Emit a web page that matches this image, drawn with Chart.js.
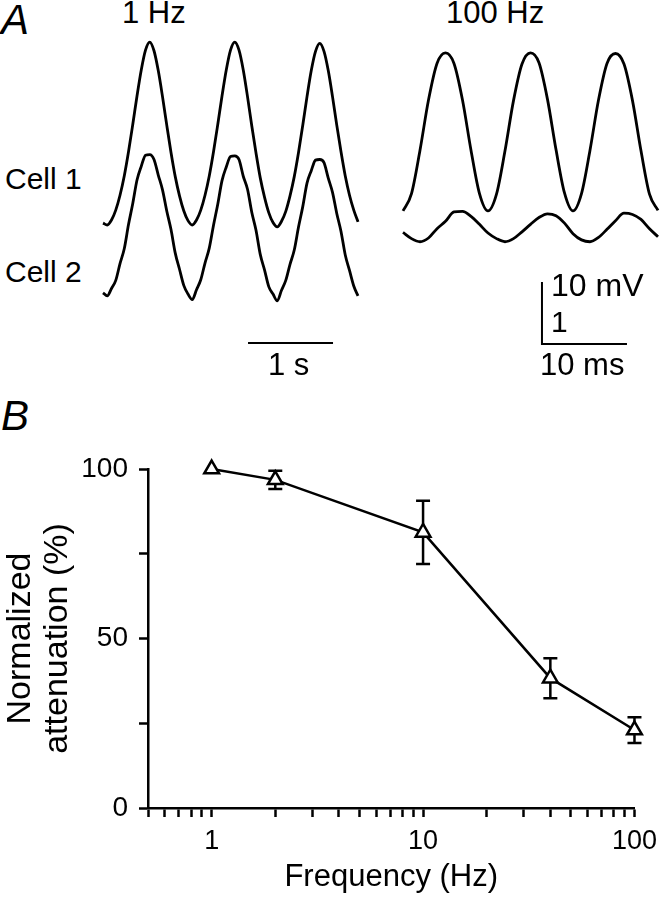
<!DOCTYPE html>
<html>
<head>
<meta charset="utf-8">
<script src="https://cdn.jsdelivr.net/npm/chart.js@4"></script>
<style>
body { margin: 0; background: #fff; }
#fig { position: relative; width: 665px; height: 900px; font-family: "Liberation Sans", Arial, sans-serif; color: #000; }
#fig canvas { position: absolute; }
.lbl { position: absolute; line-height: 1; white-space: nowrap; }
</style>
</head>
<body>
<div id="fig">
  <canvas id="trace1Hz" width="280" height="340" style="left:90px;top:30px"></canvas>
  <canvas id="trace100Hz" width="275" height="340" style="left:390px;top:30px"></canvas>
  <canvas id="attChart" width="665" height="460" style="left:0;top:440px"></canvas>

  <div class="lbl" style="left:1px;top:-1px;font-size:42px;font-style:italic">A</div>
  <div class="lbl" style="left:122px;top:-3px;font-size:31px">1 Hz</div>
  <div class="lbl" style="left:446px;top:-3px;font-size:31px">100 Hz</div>
  <div class="lbl" style="left:5px;top:164px;font-size:30px">Cell 1</div>
  <div class="lbl" style="left:5px;top:257px;font-size:30px">Cell 2</div>
  <div class="lbl" style="left:268px;top:349px;font-size:31px">1 s</div>
  <div class="lbl" style="left:551px;top:269px;font-size:32px">10 mV</div>
  <div class="lbl" style="left:551px;top:307px;font-size:30px">1</div>
  <div class="lbl" style="left:540px;top:349px;font-size:31px">10 ms</div>
  <div class="lbl" style="left:1px;top:395px;font-size:42px;font-style:italic">B</div>
</div>
<script>
// Panel A, 1 Hz: samples every 50 ms (mV above each cell's trough)
const time1Hz = [0, 0.05, 0.1, 0.15, 0.2, 0.25, 0.3, 0.35, 0.4, 0.45, 0.5, 0.55, 0.6, 0.65, 0.7, 0.75, 0.8, 0.85, 0.9, 0.95, 1,
  1.05, 1.1, 1.15, 1.2, 1.25, 1.3, 1.35, 1.4, 1.45, 1.5, 1.55, 1.6, 1.65, 1.7, 1.75, 1.8, 1.85, 1.9, 1.95, 2,
  2.05, 2.1, 2.15, 2.2, 2.25, 2.3, 2.35, 2.4, 2.45, 2.5, 2.55, 2.6, 2.65, 2.7, 2.75, 2.8, 2.85, 2.9, 2.95, 3];
const cell1At1Hz = [0.3, 0.0, 0.8, 2.4, 4.8, 7.9, 11.8, 16.2, 20.8, 25.0, 28.2, 29.5, 28.1, 24.9, 20.7, 16.1, 11.7, 7.8, 4.7, 2.3, 0.7,
  0.0, 0.8, 2.4, 4.8, 7.9, 11.8, 16.2, 20.8, 25.0, 28.2, 29.5, 28.2, 25.0, 20.7, 16.0, 11.6, 7.6, 4.5, 2.0, 0.4,
  -0.3, 0.6, 2.2, 4.7, 7.8, 11.7, 16.1, 20.7, 24.9, 28.0, 29.3, 28.0, 24.9, 20.7, 16.1, 11.8, 7.9, 4.8, 2.4, 0.5];
const cell2At1Hz = [1.0, 0.5, 1.7, 3.0, 5.7, 8.1, 12.0, 15.4, 19.2, 21.4, 23.2, 23.3, 22.5, 20.0, 17.6, 14.2, 11.2, 7.4, 4.8, 2.2, 0.8,
  -0.1, 1.5, 3.1, 5.8, 8.2, 11.9, 15.3, 19.1, 21.3, 23.0, 23.1, 22.5, 19.8, 17.7, 14.0, 11.1, 7.2, 4.7, 2.0, 0.8,
  -0.3, 1.4, 3.0, 5.6, 7.9, 11.6, 14.9, 18.7, 20.7, 22.4, 22.5, 22.0, 19.5, 17.2, 13.8, 10.9, 7.1, 4.6, 2.1, 0.5];

// Panel A, 100 Hz: samples every 1 ms
const time100Hz = [0, 1, 2, 3, 4, 5, 6, 7, 8, 9, 10, 11, 12, 13, 14, 15, 16, 17, 18, 19, 20, 21, 22, 23, 24, 25, 26, 27, 28, 29, 30];
const cell1At100Hz = [0, 2.8, 9.8, 17.9, 23.8, 25.5, 23.8, 17.9, 9.8, 2.8, 0, 2.7, 9.7, 17.8, 23.7, 25.5,
  23.9, 18.0, 9.9, 2.9, 0, 2.8, 9.8, 17.9, 23.8, 25.4, 23.7, 17.8, 9.7, 2.7, 0.1];
const cell2At100Hz = [1.7, 0.7, 0.2, 0.8, 2.3, 3.5, 5.0, 5.1, 4.3, 3.0, 1.6, 0.7, 0.2, 0.7, 1.8, 3.0,
  4.1, 4.7, 4.4, 3.2, 1.5, 0.5, 0.2, 0.9, 2.2, 3.6, 4.8, 4.6, 3.8, 2.3, 1.0];

// Panel B
const freqHz = [1, 2, 10, 40, 100];
const attenuation = [100, 96.8, 81.3, 38.3, 23.0];
const attenuationErr = [0, 2.7, 9.3, 5.9, 3.8];
const xTickLabels = [1, 10, 100];
const yTickLabels = [0, 50, 100];

const fontFamily = "'Liberation Sans', Arial, sans-serif";
Chart.defaults.font.family = fontFamily;
Chart.defaults.color = '#000';

function toPoints(xs, ys) {
  return xs.map((x, i) => ({ x: x, y: ys[i] }));
}

function traceLine(points, axis, width) {
  return {
    data: points, yAxisID: axis, borderColor: '#000', borderWidth: width,
    pointRadius: 0, cubicInterpolationMode: 'monotone', clip: false
  };
}

function makeTraceChart(id, times, cellA, cellB, xRange, yA, yB, bars) {
  const datasets = [
    traceLine(toPoints(times, cellA), 'yA', 2.8),
    traceLine(toPoints(times, cellB), 'yB', 2.8)
  ];
  bars.forEach(b => datasets.push(Object.assign(traceLine(b, 'yB', 2), { tension: 0, cubicInterpolationMode: 'default' })));
  return new Chart(document.getElementById(id), {
    type: 'line',
    data: { datasets: datasets },
    options: {
      responsive: false, animation: false, devicePixelRatio: 1,
      layout: { padding: 0 },
      plugins: { legend: { display: false }, tooltip: { enabled: false } },
      scales: {
        x: { type: 'linear', min: xRange[0], max: xRange[1], display: false },
        yA: { type: 'linear', min: yA[0], max: yA[1], display: false },
        yB: { type: 'linear', min: yB[0], max: yB[1], display: false }
      }
    }
  });
}

// 1 s scale bar under the 1 Hz traces
makeTraceChart('trace1Hz', time1Hz, cell1At1Hz, cell2At1Hz,
  [-0.153, 3.141], [-23.39, 31.45], [-11.45, 43.39],
  [[{ x: 1.706, y: -7.1 }, { x: 2.706, y: -7.1 }]]);

// 10 mV / 10 ms scale bar under the 100 Hz traces
makeTraceChart('trace100Hz', time100Hz, cell1At100Hz, cell2At100Hz,
  [-1.529, 30.824], [-25.65, 29.19], [-20.49, 34.35],
  [[{ x: 16.35, y: -6.3 }, { x: 16.35, y: -16.3 }, { x: 26.35, y: -16.3 }]]);

// error bars go under the triangles
const errorBars = {
  id: 'errorBars',
  beforeDatasetsDraw(chart) {
    const ctx = chart.ctx;
    const xs = chart.scales.x, ys = chart.scales.y;
    ctx.save();
    ctx.strokeStyle = '#000';
    ctx.lineWidth = 2.5;
    freqHz.forEach((f, i) => {
      const e = attenuationErr[i];
      if (!e) return;
      const px = xs.getPixelForValue(f);
      const top = ys.getPixelForValue(attenuation[i] + e);
      const bot = ys.getPixelForValue(attenuation[i] - e);
      ctx.beginPath();
      ctx.moveTo(px, top); ctx.lineTo(px, bot);
      ctx.moveTo(px - 7, top); ctx.lineTo(px + 7, top);
      ctx.moveTo(px - 7, bot); ctx.lineTo(px + 7, bot);
      ctx.stroke();
    });
    ctx.restore();
  }
};

new Chart(document.getElementById('attChart'), {
  type: 'line',
  data: {
    datasets: [{
      data: toPoints(freqHz, attenuation),
      borderColor: '#000', borderWidth: 2.5, tension: 0, clip: false,
      pointStyle: 'triangle', pointRadius: 8.5,
      pointBackgroundColor: '#fff', pointBorderColor: '#000', pointBorderWidth: 2.5
    }]
  },
  options: {
    responsive: false, animation: false, devicePixelRatio: 1,
    layout: { padding: { top: 29, right: 25, bottom: 0, left: 0 } },
    plugins: { legend: { display: false }, tooltip: { enabled: false } },
    scales: {
      x: {
        type: 'logarithmic', min: 0.5, max: 100,
        afterBuildTicks: scale => {
          const vals = [];
          [0.1, 1, 10].forEach(dec => {
            for (let k = 1; k < 10; k++) {
              const v = +(k * dec).toFixed(1);
              if (v >= 0.5) vals.push(v);
            }
          });
          vals.push(100);
          scale.ticks = vals.map(v => ({ value: v }));
        },
        afterFit: scale => { scale.height = 92; },
        grid: { drawOnChartArea: false, drawTicks: true, tickLength: 9, tickWidth: 2.5, tickColor: '#000' },
        border: { display: true, color: '#000', width: 2.5 },
        ticks: {
          autoSkip: false, maxRotation: 0, padding: 8, color: '#000',
          font: { size: 27 },
          callback: v => xTickLabels.includes(v) ? String(v) : ''
        },
        title: { display: true, text: 'Frequency (Hz)', color: '#000', font: { size: 31 }, padding: { top: 0, bottom: 4 } }
      },
      y: {
        type: 'linear', min: 0, max: 100,
        afterBuildTicks: scale => { scale.ticks = [0, 25, 50, 75, 100].map(v => ({ value: v })); },
        afterFit: scale => { scale.width = 148; },
        grid: { drawOnChartArea: false, drawTicks: true, tickLength: 9, tickWidth: 2.5, tickColor: '#000' },
        border: { display: true, color: '#000', width: 2.5 },
        ticks: {
          padding: 11, color: '#000', font: { size: 28 },
          callback: v => yTickLabels.includes(v) ? String(v) : ''
        },
        title: {
          display: true, text: ['Normalized', 'attenuation (%)'], color: '#000',
          font: { size: 34, lineHeight: 1.1 }, padding: { top: 2, bottom: 0 }
        }
      }
    }
  },
  plugins: [errorBars]
});
</script>
</body>
</html>
